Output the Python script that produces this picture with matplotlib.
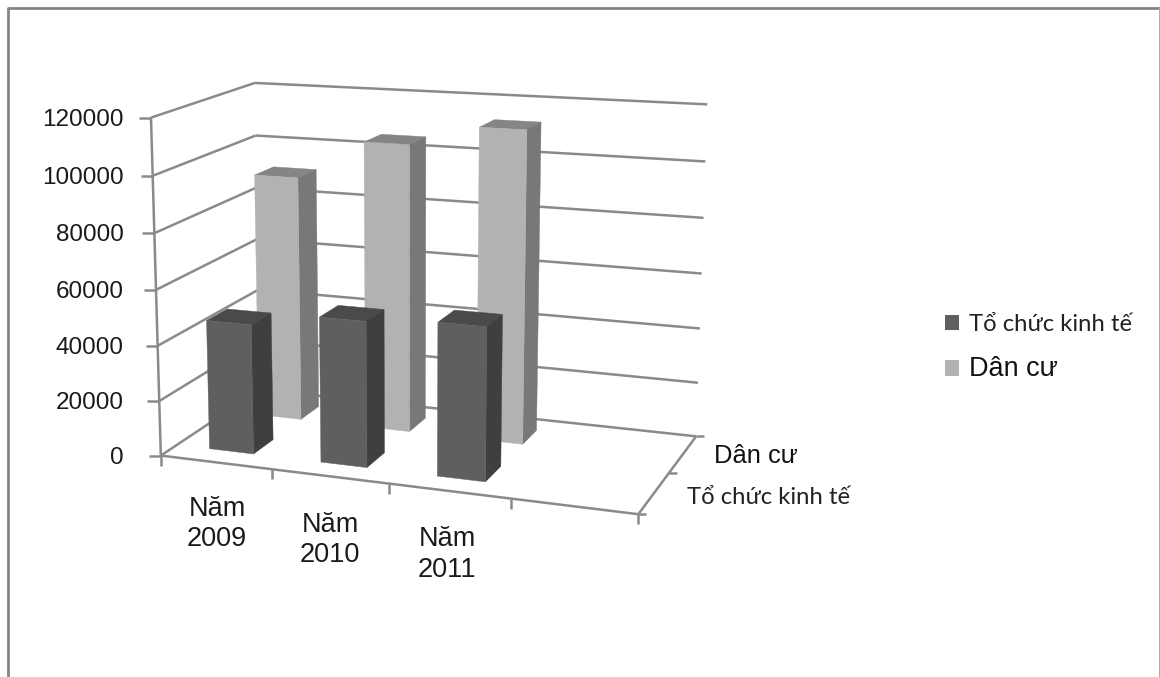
import numpy as np
import matplotlib
matplotlib.use("Agg")
import matplotlib.pyplot as plt
from matplotlib.patches import Polygon, Patch

# ---- data ----
categories = ["Năm\n2009", "Năm\n2010", "Năm\n2011", ""]
series_names = ["Tổ chức kinh tế", "Dân cư"]
to_chuc_kinh_te = [47000, 52000, 54000]
dan_cu = [91000, 105500, 113000]
y_ticks = [0, 20000, 40000, 60000, 80000, 100000, 120000]
Y_MAX = 120000

# ---- style ----
GRID = "#8a8a8a"
DARK = {"front": "#5f5f5f", "side": "#3f3f3f", "top": "#4a4a4a"}
LIGHT = {"front": "#b2b2b2", "side": "#787878", "top": "#858585"}
SANS = ["Liberation Sans", "DejaVu Sans"]
CAL = ["Lato", "Open Sans", "DejaVu Sans"]

# ---- projection of the chart box (x along categories, d depth, z height; all 0..1) ----
anchors = [
    (0, 0, 0, 162, 454), (1, 0, 0, 637, 516), (1, 1, 0, 695, 434), (0, 1, 0, 259, 392),
    (0, 0, 1, 150, 118), (0, 1, 1, 256, 82), (1, 1, 1, 707, 105),
    (.25, 0, 0, 272, 468), (.5, 0, 0, 389, 484), (.75, 0, 0, 510, 499),
    (1, .5, 0, 672, 473),
]
A, b = [], []
for x, d, z, u, v in anchors:
    u, v = u / 1000, v / 1000
    A.append([x, d, z, 1, 0, 0, 0, 0, -u * x, -u * d, -u * z]); b.append(u)
    A.append([0, 0, 0, 0, x, d, z, 1, -v * x, -v * d, -v * z]); b.append(v)
h = np.linalg.lstsq(np.array(A), np.array(b), rcond=None)[0]
H = np.append(h, 1).reshape(3, 4)


def proj(x, d, z):
    p = H @ np.array([x, d, z, 1.0])
    return p[0] / p[2] * 1000, p[1] / p[2] * 1000


fig = plt.figure(figsize=(11.6, 6.77), dpi=100, facecolor="white")
ax = fig.add_axes([0, 0, 1, 1])
ax.set_xlim(0, 1160)
ax.set_ylim(677, 0)
ax.axis("off")


def seg(p, q, lw=1.8, z=1):
    ax.plot([p[0], q[0]], [p[1], q[1]], color=GRID, lw=lw, solid_capstyle="butt", zorder=z)


# frame of the picture
ax.plot([8, 8, 1160], [677, 8, 8], color="#858585", lw=2.0, zorder=0)
ax.plot([1159.5, 1159.5], [9, 677], color="#ababab", lw=1.4, zorder=0)

# walls' gridlines
for t in y_ticks:
    z = t / Y_MAX
    seg(proj(0, 0, z), proj(0, 1, z))
    seg(proj(0, 1, z), proj(1, 1, z))
    u, v = proj(0, 0, z)
    seg((u - 12, v), (u, v))
    ax.text(124, v + 2, str(t), ha="right", va="center", fontsize=17.5, family=SANS, color="#1a1a1a")

# axes
seg(proj(0, 0, 0), proj(0, 0, 1))
seg(proj(0, 0, 0), proj(1, 0, 0))
seg(proj(1, 0, 0), proj(1, 1, 0))
for i in range(len(categories) + 1):
    u, v = proj(i / len(categories), 0, 0)
    seg((u, v), (u, v + 10))
for d in (0, .5, 1):
    u, v = proj(1, d, 0)
    seg((u, v), (u + 8, v))

# bars, back row first
n = len(categories)
BW, DW = 0.4, 0.4


def bar(i, row, value, col, zo):
    x0, x1 = (i + .5 - BW / 2) / n, (i + .5 + BW / 2) / n
    d0, d1 = (row + .5 - DW / 2) / 2, (row + .5 + DW / 2) / 2
    z = value / Y_MAX
    faces = [
        ("top", [(x0, d0, z), (x1, d0, z), (x1, d1, z), (x0, d1, z)]),
        ("side", [(x1, d0, 0), (x1, d1, 0), (x1, d1, z), (x1, d0, z)]),
        ("front", [(x0, d0, 0), (x1, d0, 0), (x1, d0, z), (x0, d0, z)]),
    ]
    for name, pts in faces:
        ax.add_patch(Polygon([proj(*p) for p in pts], closed=True, facecolor=col[name],
                             edgecolor=col[name], lw=0.3, zorder=zo))


for i, val in enumerate(dan_cu):
    bar(i, 1, val, LIGHT, 3 + i * 0.1)
for i, val in enumerate(to_chuc_kinh_te):
    bar(i, 0, val, DARK, 4 + i * 0.1)

# category labels
label_pos = [(217, 524), (330, 540), (447, 554.5)]
for lab, (u, v) in zip(categories, label_pos):
    ax.text(u, v, lab, ha="center", va="center", fontsize=19.5, family=SANS,
            color="#1a1a1a", linespacing=1.22)

# depth-axis labels
ax.text(714, 456, series_names[1], ha="left", va="center", fontsize=18.4, family=SANS, color="#111111")
ax.text(687, 498, series_names[0], ha="left", va="center", fontsize=17.2, family=CAL, color="#222222")

# legend
handles = [Patch(facecolor=DARK["front"], edgecolor="none"), Patch(facecolor=LIGHT["front"], edgecolor="none")]
leg = ax.legend(handles, series_names, loc="center left", bbox_to_anchor=(945, 348),
                bbox_transform=ax.transData, frameon=False, fontsize=17.2,
                handlelength=0.6, handleheight=0.6, handletextpad=0.42,
                labelspacing=0.92, borderpad=0, borderaxespad=0)
leg.get_texts()[0].set_family(CAL)
leg.get_texts()[0].set_color("#222222")
leg.get_texts()[1].set_family(SANS)
leg.get_texts()[1].set_fontsize(19.5)
leg.get_texts()[1].set_color("#111111")

fig.savefig("out.png", dpi=100)
